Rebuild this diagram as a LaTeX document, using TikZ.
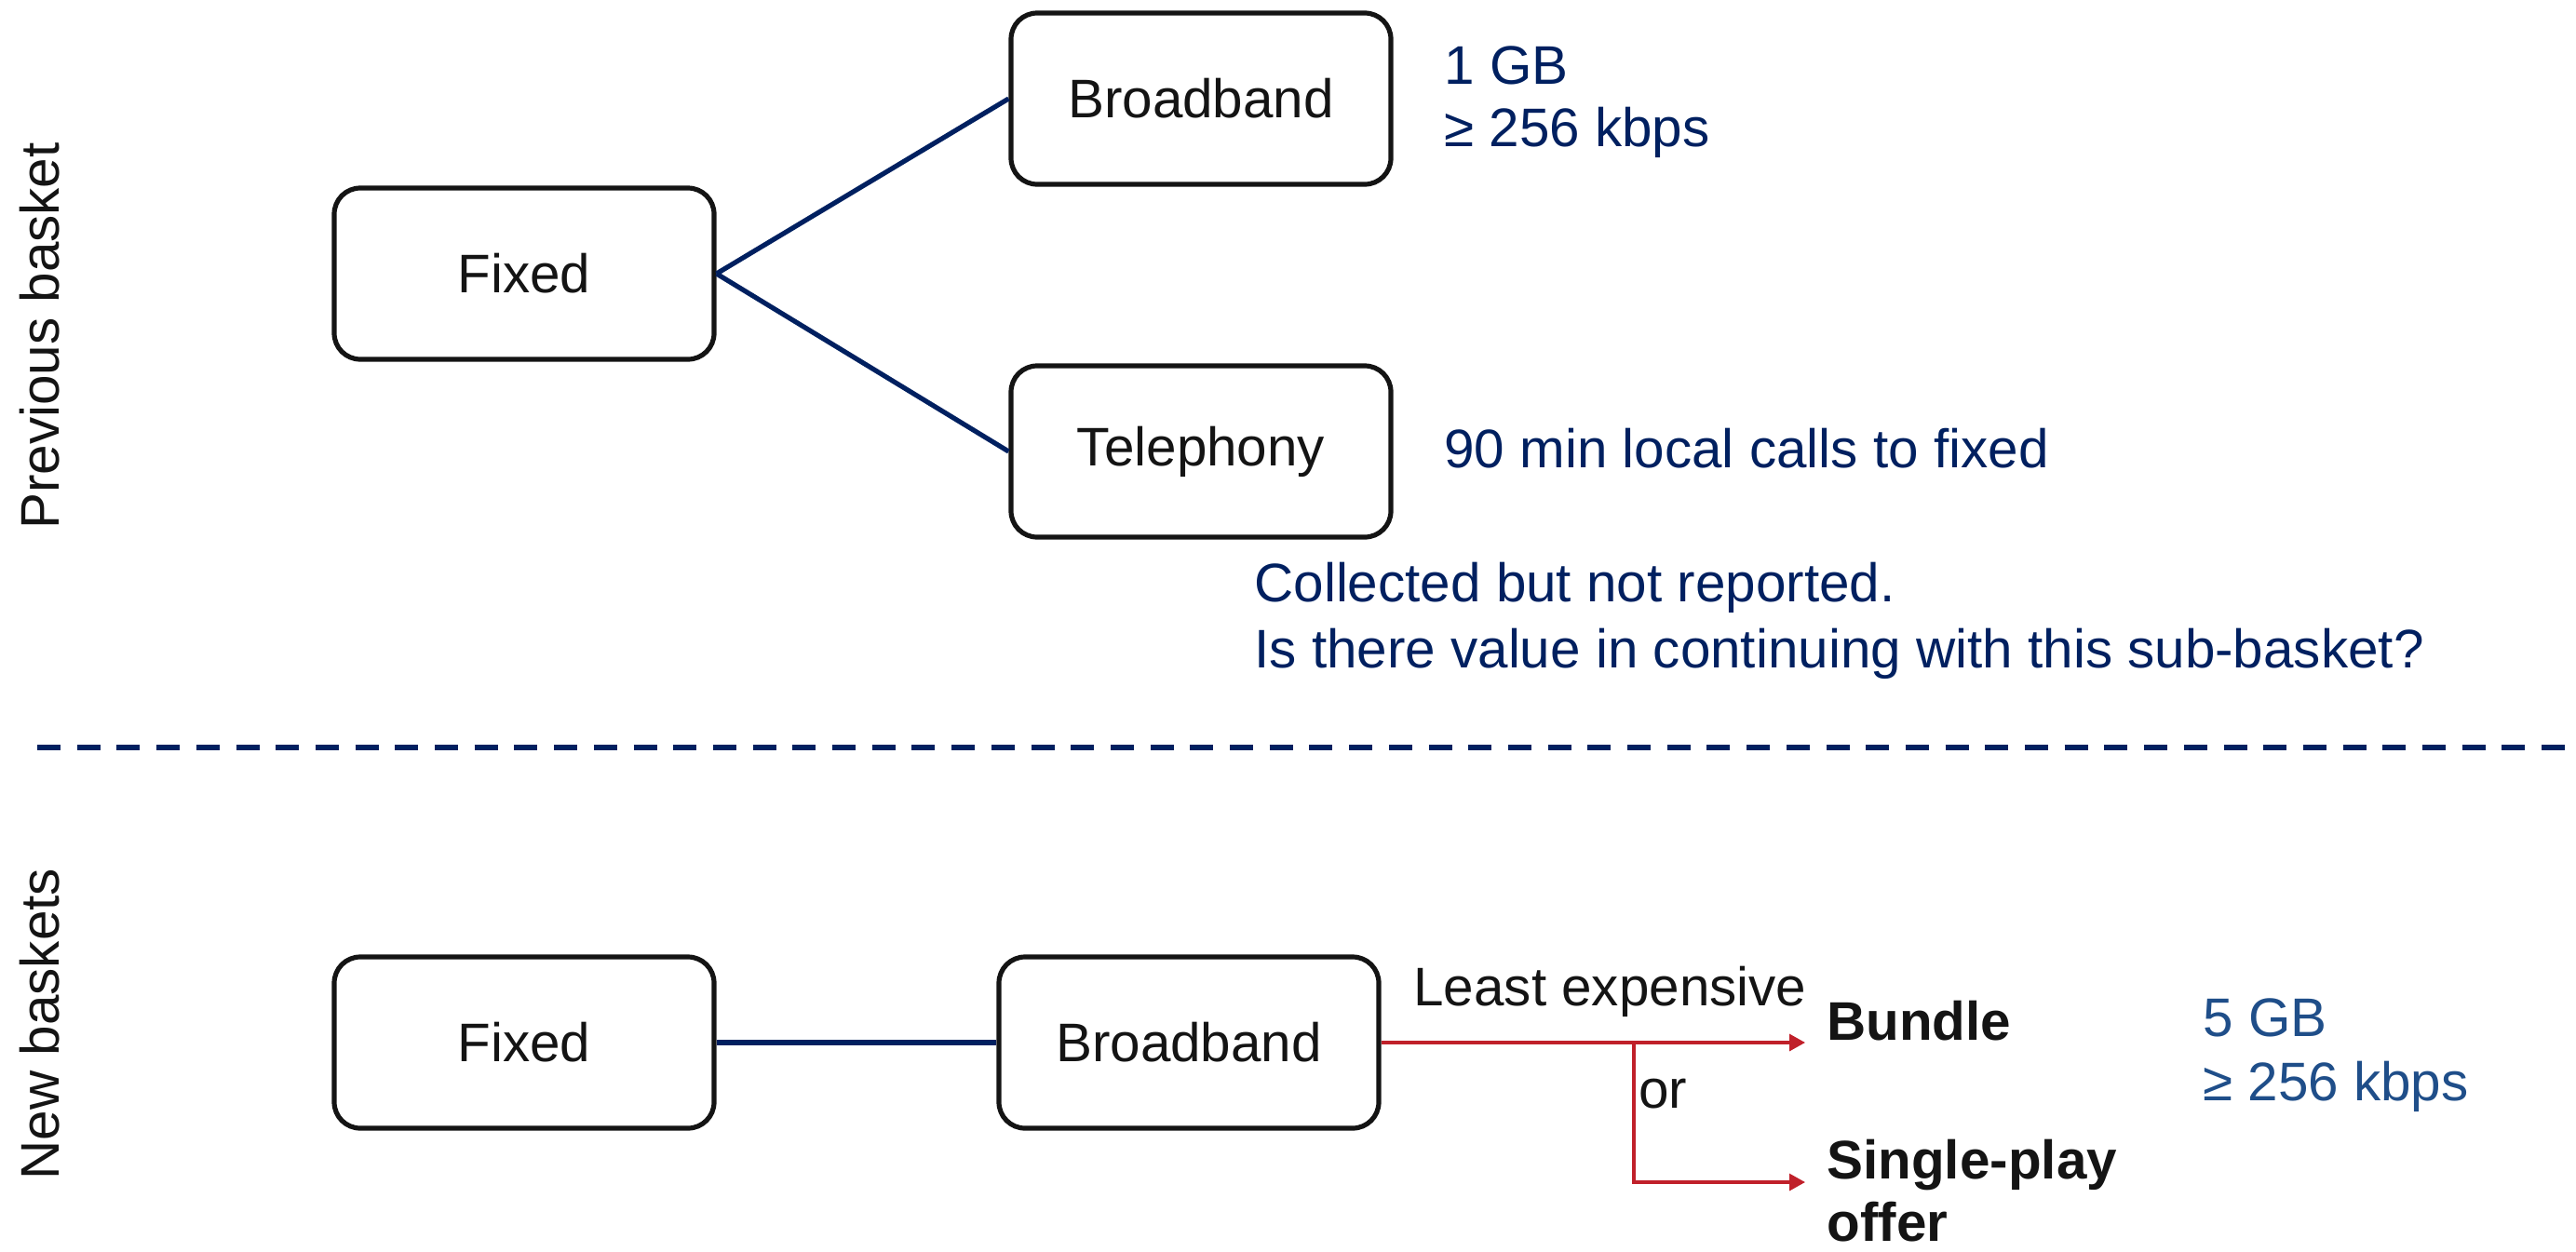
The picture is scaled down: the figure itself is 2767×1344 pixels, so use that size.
\documentclass[tikz,border=0pt]{standalone}
\usepackage{fontspec}
\setmainfont{Liberation Sans}
\usetikzlibrary{arrows.meta}
\definecolor{navy}{HTML}{002060}
\definecolor{midblue}{HTML}{1F4E89}
\definecolor{arrred}{HTML}{C0202A}
\definecolor{boxblack}{HTML}{141414}
\newcommand\bigfs{\fontsize{29.2}{34}\selectfont}
\begin{document}
\begin{tikzpicture}[x=0.5pt,y=-0.5pt,
  box/.style={draw=boxblack, line width=2.6pt, rounded corners=14pt, minimum width=204pt, minimum height=92pt, inner sep=0pt, font=\bigfs, text=boxblack},
  lbl/.style={inner sep=0pt, anchor=base west, font=\bigfs},
  navytxt/.style={lbl, text=navy},
  bluetxt/.style={lbl, text=midblue},
  blacktxt/.style={lbl, text=boxblack},
  sidelbl/.style={inner sep=0pt, font=\bigfs, rotate=90, anchor=base, text=boxblack},
  conn/.style={draw=navy, line width=2.6pt},
  redline/.style={draw=arrred, line width=1.6pt},
  redarrow/.style={redline, -{Triangle[length=8.5pt,width=9pt]}}]
\useasboundingbox (0,0) rectangle (2767,1344);

% side labels
\node[sidelbl] (prev) at (63,361) {Previous basket};
\node[sidelbl] (new) at (63,1100) {New baskets};

% top part
\node[box] (fixA) at (563,294) {Fixed};
\node[box] (bbA) at (1290,106) {Broadband};
\node[box] (tel) at (1290,485) {Telephony};
\draw[conn] (fixA.east) -- (bbA.west);
\draw[conn] (fixA.east) -- (tel.west);

\node[navytxt] (gb1) at (1551,90) {1 GB};
\node[navytxt] (kb1) at (1551,157) {≥ 256 kbps};
\node[navytxt] (min) at (1551,502) {90 min local calls to fixed};
\node[navytxt] (col1) at (1347,646) {Collected but not reported.};
\node[navytxt] (col2) at (1347,717) {Is there value in continuing with this sub-basket?};

% divider
\coordinate (dl) at (40,803);
\coordinate (dr) at (2767,803);
\draw[navy, line width=3pt, dash pattern=on 12.5pt off 8.85pt] (dl) -- (dr);

% bottom part
\node[box] (fixB) at (563,1120) {Fixed};
\node[box] (bbB) at (1277,1120) {Broadband};
\draw[conn] (fixB.east) -- (bbB.west);

\coordinate (bundleTip) at (1939,1120);
\coordinate (split) at (1755,1120);
\coordinate (corner) at (1755,1270);
\coordinate (singleTip) at (1939,1270);
\draw[redarrow] (bbB.east) -- (bundleTip);
\draw[redarrow] (split) -- (corner) -- (singleTip);

\node[blacktxt] (least) at (1518,1080) {Least expensive};
\node[blacktxt] (or) at (1760,1190) {or};
\node[blacktxt, font=\bigfs\bfseries] (bundle) at (1962,1117) {Bundle};
\node[blacktxt, font=\bigfs\bfseries] (single) at (1962,1266) {Single-play};
\node[blacktxt, font=\bigfs\bfseries] (offer) at (1962,1333) {offer};

\node[bluetxt] (gb5) at (2366,1113) {5 GB};
\node[bluetxt] (kb5) at (2366,1182) {≥ 256 kbps};
\end{tikzpicture}
\end{document}
